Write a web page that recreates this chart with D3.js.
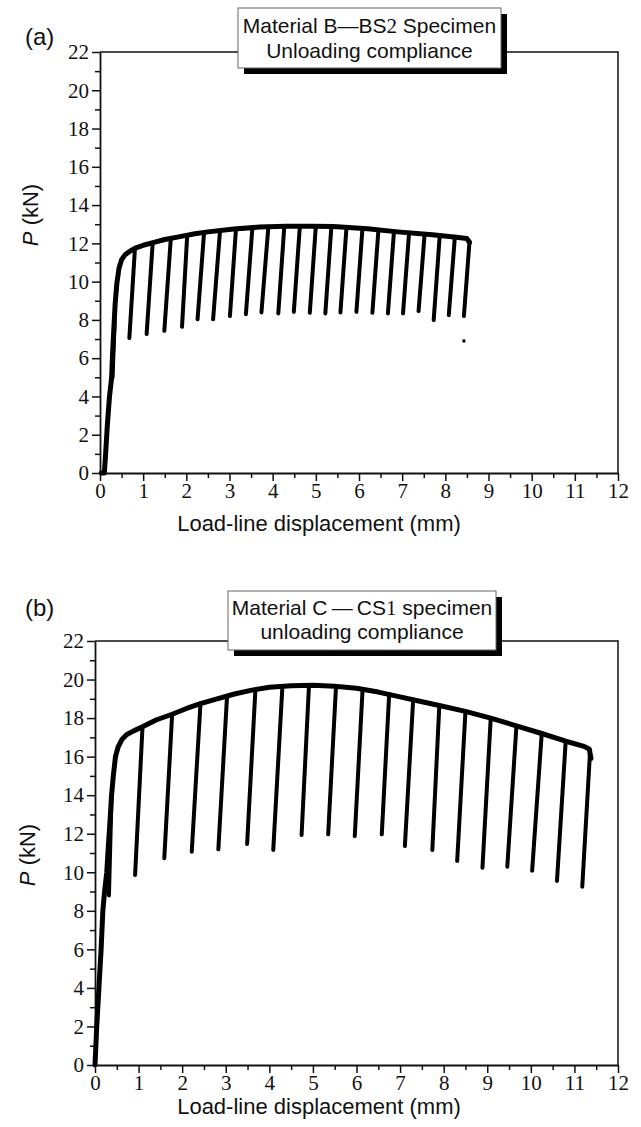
<!DOCTYPE html>
<html>
<head>
<meta charset="utf-8">
<script src="https://cdn.jsdelivr.net/npm/d3@7/dist/d3.min.js"></script>
<style>
  html, body { margin: 0; padding: 0; background: #fff; }
  svg { display: block; }
</style>
</head>
<body>
<svg id="chart" width="641" height="1127"></svg>
<script>
// ---------------- DATA ----------------
const xTicks = [0,1,2,3,4,5,6,7,8,9,10,11,12];
const xMinorTicks = d3.range(0.5, 12, 1);
const yTicks = [0,2,4,6,8,10,12,14,16,18,20,22];
const yMinorTicks = d3.range(1, 22, 2);

// Panel (a): Material B — BS2 specimen
const envA_x = [0.03,0.10,0.13,0.17,0.22,0.27,0.29,0.32,0.35,0.39,0.44,0.50,0.58,0.70,0.85,1.00,1.25,1.50,1.85,2.20,2.50,3.10,3.70,4.30,4.90,5.40,6.20,6.90,7.70,8.20,8.50,8.56];
const envA_p = [0,0,1.0,2.5,4.0,5.0,6.2,7.5,8.8,9.9,10.7,11.15,11.4,11.6,11.78,11.9,12.05,12.2,12.35,12.5,12.6,12.75,12.85,12.9,12.9,12.88,12.76,12.6,12.45,12.33,12.25,12.05];
const unlA_topX = [0.34,0.81,1.22,1.64,2.02,2.41,2.78,3.15,3.53,3.90,4.27,4.63,5.00,5.36,5.71,6.08,6.45,6.81,7.16,7.52,7.87,8.22,8.56];
const unlA_topP = [7.9,11.75,12.0,12.25,12.4,12.55,12.65,12.75,12.8,12.85,12.9,12.9,12.9,12.88,12.84,12.78,12.7,12.62,12.55,12.48,12.4,12.32,12.1];
const unlA_botX = [0.29,0.68,1.08,1.49,1.90,2.26,2.62,3.01,3.38,3.74,4.13,4.49,4.86,5.22,5.57,5.94,6.31,6.67,7.02,7.38,7.73,8.08,8.43];
const unlA_botP = [5.0,7.05,7.26,7.43,7.64,8.03,8.03,8.2,8.3,8.39,8.34,8.42,8.37,8.34,8.39,8.42,8.37,8.34,8.34,8.46,7.99,8.25,8.2];
const dotsA_x = [8.43];
const dotsA_p = [6.9];

// Panel (b): Material C — CS1 specimen
const envB_x = [0,0.04,0.09,0.14,0.18,0.22,0.27,0.31,0.34,0.38,0.42,0.47,0.53,0.62,0.73,0.90,1.09,1.40,1.77,2.10,2.42,2.80,3.20,3.60,4.00,4.50,5.00,5.50,6.00,6.50,7.00,7.40,7.90,8.50,9.08,9.67,10.25,10.80,11.20,11.34,11.38];
const envB_p = [0,2,4,6,8,9,10,11.5,12.5,14,15,16,16.5,16.9,17.15,17.35,17.55,17.9,18.2,18.5,18.75,19.0,19.25,19.45,19.6,19.68,19.7,19.65,19.55,19.35,19.1,18.9,18.65,18.35,18.0,17.6,17.2,16.8,16.55,16.4,15.9];
const unlB_topX = [0.38,1.09,1.77,2.42,3.03,3.68,4.30,4.91,5.53,6.14,6.75,7.30,7.90,8.50,9.08,9.67,10.25,10.80,11.36];
const unlB_topP = [14,17.55,18.2,18.75,19.15,19.45,19.65,19.7,19.65,19.5,19.25,18.95,18.65,18.35,18.0,17.6,17.2,16.8,16.3];
const unlB_botX = [0.32,0.92,1.59,2.22,2.83,3.49,4.09,4.74,5.35,5.96,6.58,7.11,7.74,8.31,8.89,9.46,10.03,10.60,11.18];
const unlB_botP = [8.8,9.86,10.73,11.07,11.19,11.47,11.16,11.94,11.97,11.88,11.97,11.36,11.16,10.59,10.24,10.29,10.08,9.55,9.25];
const dotsB_x = [];
const dotsB_p = [];

// ---------------- DRAW ----------------
const svg = d3.select("#chart");
const SANS = "'Liberation Sans', Arial, sans-serif";
const SERIF = "'Liberation Serif', 'Times New Roman', serif";

function panel(cfg) {
  const x = d3.scaleLinear().domain([0, 12]).range([cfg.left, cfg.right]);
  const y = d3.scaleLinear().domain([0, 22]).range([cfg.bottom, cfg.top]);
  const g = svg.append("g");

  // frame (top & right)
  g.append("path")
    .attr("d", `M${cfg.left},${cfg.top}H${cfg.right}V${cfg.bottom}`)
    .attr("fill", "none").attr("stroke", "#111").attr("stroke-width", 1.5);

  // minor ticks
  g.append("g").attr("transform", `translate(${cfg.left},0)`)
    .call(d3.axisLeft(y).tickValues(yMinorTicks).tickSize(5).tickFormat(""))
    .call(a => a.select(".domain").remove())
    .call(a => a.selectAll("line").attr("stroke", "#111").attr("stroke-width", 1.5));
  g.append("g").attr("transform", `translate(0,${cfg.bottom})`)
    .call(d3.axisBottom(x).tickValues(xMinorTicks).tickSize(5).tickFormat(""))
    .call(a => a.select(".domain").remove())
    .call(a => a.selectAll("line").attr("stroke", "#111").attr("stroke-width", 1.5));

  // major axes
  const ay = g.append("g").attr("transform", `translate(${cfg.left},0)`)
    .call(d3.axisLeft(y).tickValues(yTicks).tickSize(8).tickSizeOuter(0).tickPadding(3));
  const ax = g.append("g").attr("transform", `translate(0,${cfg.bottom})`)
    .call(d3.axisBottom(x).tickValues(xTicks).tickSize(8).tickSizeOuter(0).tickPadding(2));
  [ay, ax].forEach(a => {
    a.select(".domain").attr("stroke", "#111").attr("stroke-width", 1.8);
    a.selectAll("line").attr("stroke", "#111").attr("stroke-width", 1.5);
    a.selectAll("text").attr("font-family", SERIF).attr("font-size", 21).attr("fill", "#111");
  });

  // data
  const line = d3.line().x(d => x(d[0])).y(d => y(d[1]));
  const env = cfg.envX.map((v, i) => [v, cfg.envP[i]]);
  g.append("path").datum(env).attr("d", line)
    .attr("fill", "none").attr("stroke", "#000").attr("stroke-width", 5)
    .attr("stroke-linejoin", "round").attr("stroke-linecap", "round");
  const unl = cfg.topX.map((v, i) => [[v, cfg.topP[i]], [cfg.botX[i], cfg.botP[i]]]);
  g.selectAll(".unl").data(unl).join("path").attr("d", line)
    .attr("fill", "none").attr("stroke", "#000").attr("stroke-width", 4)
    .attr("stroke-linecap", "round");
  g.selectAll(".dot").data(cfg.dotX.map((v, i) => [v, cfg.dotP[i]])).join("rect")
    .attr("x", d => x(d[0]) - 1.5).attr("y", d => y(d[1]) - 1.5)
    .attr("width", 3).attr("height", 3).attr("fill", "#000");

  // legend box with shadow
  const b = cfg.box;
  g.append("rect").attr("x", b.x + 6).attr("y", b.y + 6).attr("width", b.w).attr("height", b.h).attr("fill", "#000");
  g.append("rect").attr("x", b.x).attr("y", b.y).attr("width", b.w).attr("height", b.h)
    .attr("fill", "#fff").attr("stroke", "#666").attr("stroke-width", 1);
  cfg.boxLines.forEach((parts, i) => {
    const t = g.append("text").attr("x", b.x + b.w / 2).attr("y", b.y + b.l1 + i * b.dy)
      .attr("text-anchor", "middle").attr("font-family", SANS).attr("font-size", 21).attr("fill", "#111");
    parts.forEach(p => t.append("tspan").attr("font-family", p.serif ? SERIF : SANS).text(p.t));
  });

  // panel label
  g.append("text").attr("x", 25).attr("y", cfg.labelY).attr("font-family", SANS)
    .attr("font-size", 24).attr("fill", "#111").text(cfg.label);

  // axis titles
  const yt = g.append("text").attr("transform", `translate(${cfg.ytX},${cfg.ytY}) rotate(-90)`)
    .attr("text-anchor", "middle").attr("font-family", SANS).attr("font-size", 22).attr("fill", "#111");
  yt.append("tspan").attr("font-style", "italic").text("P");
  yt.append("tspan").text(" (kN)");
  g.append("text").attr("x", 319).attr("y", cfg.xtY).attr("text-anchor", "middle")
    .attr("font-family", SANS).attr("font-size", 22).attr("fill", "#111")
    .text("Load-line displacement (mm)");
}

panel({
  left: 100, right: 618, top: 52, bottom: 473,
  envX: envA_x, envP: envA_p,
  topX: unlA_topX, topP: unlA_topP, botX: unlA_botX, botP: unlA_botP,
  dotX: dotsA_x, dotP: dotsA_p,
  box: {x: 238, y: 8, w: 263, h: 60, l1: 25, dy: 25},
  boxLines: [[{t: "Material B\u2014BS"}, {t: "2", serif: true}, {t: " Specimen"}], [{t: "Unloading compliance"}]],
  label: "(a)", labelY: 45, ytX: 38, ytY: 215, xtY: 531
});
panel({
  left: 95, right: 618, top: 641, bottom: 1065,
  envX: envB_x, envP: envB_p,
  topX: unlB_topX, topP: unlB_topP, botX: unlB_botX, botP: unlB_botP,
  dotX: dotsB_x, dotP: dotsB_p,
  box: {x: 228, y: 591, w: 268, h: 59, l1: 24, dy: 24},
  boxLines: [[{t: "Material C\u2009\u2014\u2009CS"}, {t: "1", serif: true}, {t: "  specimen"}], [{t: "unloading compliance"}]],
  label: "(b)", labelY: 616, ytX: 35, ytY: 855, xtY: 1114
});
</script>
</body>
</html>
